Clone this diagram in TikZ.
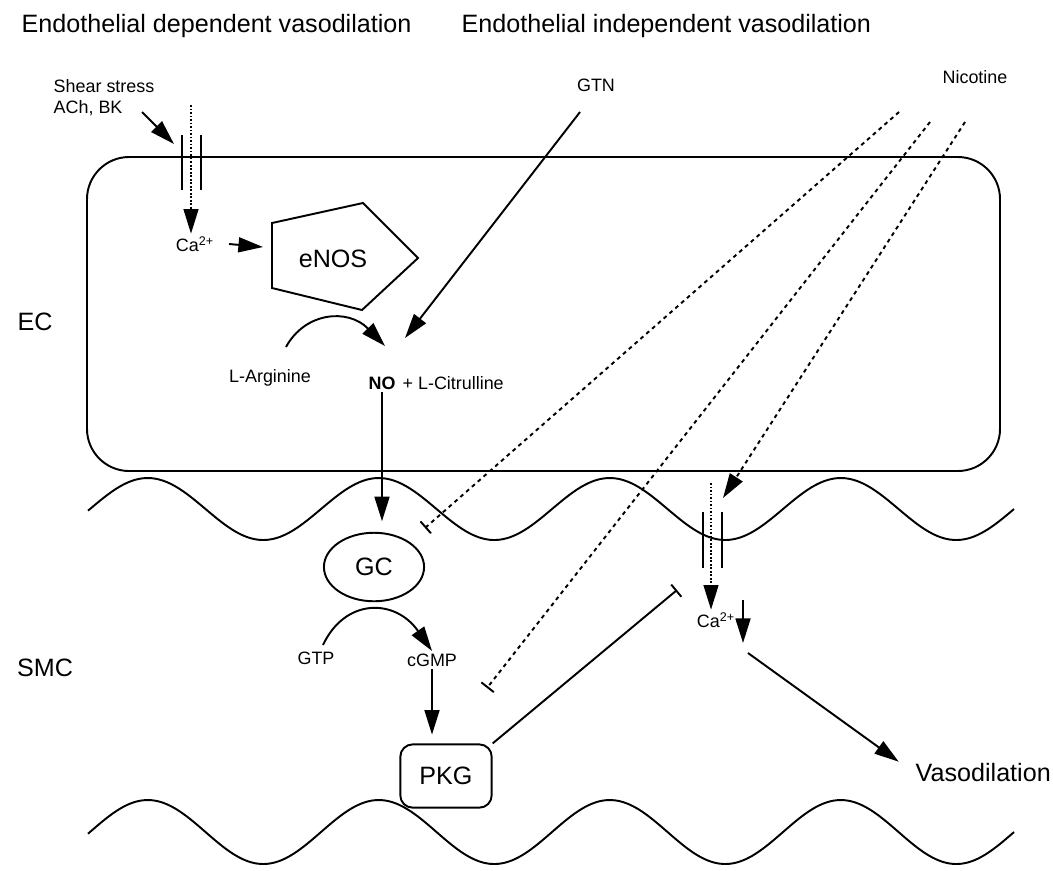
\documentclass[tikz,border=0pt]{standalone}
\usepackage{fontspec}
\setmainfont{Liberation Sans}
\usetikzlibrary{arrows.meta}
\usetikzlibrary{shapes.geometric}
\tikzset{big/.style={font=\fontsize{14.3}{17}\selectfont, inner sep=1pt}, small/.style={font=\fontsize{10.2}{12}\selectfont, inner sep=1pt}}
\tikzset{arr/.style={-{Triangle[length=14pt,width=8.5pt]}}, inh/.style={-{Bar[width=9pt]}}}
\tikzset{nic/.style={dash pattern=on 2.2pt off 2.2pt}, ion/.style={dash pattern=on 1pt off 1pt, line width=0.9pt}}

\begin{document}
\begin{tikzpicture}[x=0.02cm, y=-0.02cm, line width=1.1pt]
                \useasboundingbox (0,0) rectangle (1053,870);
                % headings and compartments
                \node[big, anchor=base west] (tdep) at (19,32) {Endothelial dependent vasodilation};
                \node[big, anchor=base west] (tind) at (459,32) {Endothelial independent vasodilation};
                \node[big] (ec) at (35,322) {EC};
                \node[big] (smc) at (45,668) {SMC};

                \draw[rounded corners=24pt] (87,157) rectangle (1000,471);
                \draw plot[domain=88:1014, samples=160, smooth] (\x,{509-31*sin(1.5584*(\x-90))});
                \draw plot[domain=88:1014, samples=160, smooth] (\x,{832-32*sin(1.5584*(\x-90))});

                % endothelium
                \node[small, anchor=base west] (shear) at (51,92) {Shear stress};
                \node[small, anchor=base west] (ach) at (51,113) {ACh, BK};
                \coordinate (achE) at (142,112);
                \coordinate (chanE) at (174,144);
                \draw[arr] (achE) -- (chanE);
                \draw (182,135) -- (182,190);
                \draw (201,135) -- (201,190);
                \coordinate (ionE) at (191,105);
                \node[small] (caE) at (195,244) {Ca\textsuperscript{2+}};
                \draw[arr, ion] (ionE) -- (ionE |- caE.north);

                \draw (272,223) -- (363,203) -- (418,258) -- (362,310) -- (272,288) -- cycle;
                \node[big] (enos) at (333,259) {eNOS};
                \coordinate (enosW) at (263,247);
                \draw[arr] (caE.east) ++(7pt,0) -- (enosW);

                \node[small] (larg) at (270,378) {L-Arginine};
                \node[small, font=\fontsize{10.2}{12}\selectfont\bfseries] (no) at (382,383) {NO};
                \node[small, anchor=west] (cit) at ([xshift=1pt]no.east) {+ L-Citrulline};
                \coordinate (argS) at (286,347);
                \coordinate (noT) at (385,346);
                \draw[arr] (argS) .. controls (305,312) and (348,308) .. (noT);

                \node[small] (gtn) at (596,85) {GTN};
                \coordinate (gtnS) at (580,112);
                \coordinate (gtnT) at (405,338);
                \draw[arr] (gtnS) -- (gtnT);

                % nicotine
                \node[small] (nico) at (975,77) {Nicotine};
                \coordinate (n1) at (899,112);
                \coordinate (n2) at (930,122);
                \coordinate (n3) at (965,122);
                \coordinate (gcBar) at (425,528);
                \coordinate (pkgBar) at (487,688);
                \coordinate (smcChan) at (723,498);
                \draw[inh, nic] (n1) -- (gcBar);
                \draw[inh, nic] (n2) -- (pkgBar);
                \draw[arr, nic] (n3) -- (smcChan);

                % smooth muscle
                \node[draw, ellipse, big, minimum width=57pt, minimum height=39pt] (gc) at (374,567) {GC};
                \draw[arr, shorten >=6pt] (no.south) -- (no.south |- gc.north);
                \node[small] (gtp) at (316,658) {GTP};
                \node[small] (cgmp) at (432,660) {cGMP};
                \draw[arr] (323,645) .. controls (345,598) and (395,598) .. (cgmp.north);
                \node[draw, big, rounded corners=7pt, minimum width=52pt, minimum height=36pt] (pkg) at (446,776) {PKG};
                \draw[arr, shorten >=5pt] (cgmp.south) -- (cgmp.south |- pkg.north);
                \coordinate (caBar) at (677,590);
                \draw[inh] (pkg.north east) -- (caBar);

                \draw (703,512) -- (703,568);
                \draw (722,512) -- (722,568);
                \coordinate (ionS) at (711,483);
                \node[small] (caS) at (716,620) {Ca\textsuperscript{2+}};
                \draw[arr, ion] (ionS) -- (ionS |- caS.north);
                \draw[arr] (743,600) -- (743,643);

                \node[big, anchor=west] (vaso) at (913,772) {Vasodilation};
                \coordinate (vasoS) at (748,653);
                \draw[arr, shorten >=10pt] (vasoS) -- (vaso.west);
\end{tikzpicture}
\end{document}
